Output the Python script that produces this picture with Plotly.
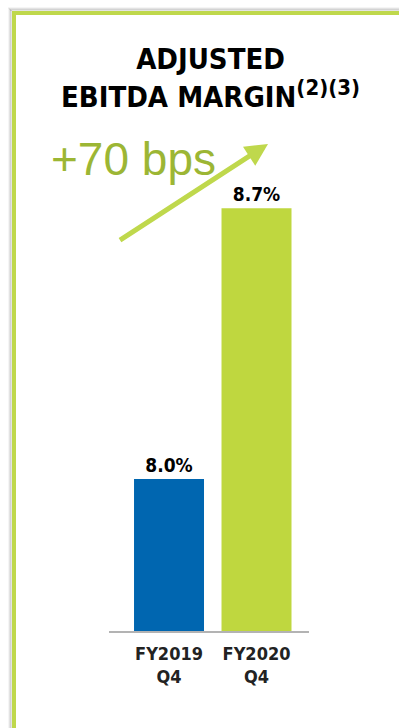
import plotly.graph_objects as go

categories = ["FY2019<br>Q4", "FY2020<br>Q4"]
values = [8.0, 8.7]
value_labels = ["8.0%", "8.7%"]
bar_colors = ["#0066b0", "#bfd73f"]

W, H = 399, 728
L, R, T, B = 109, 90, 140, 97
PW, PH = W - L - R, H - T - B

def px2x(px):
    return (px - L) / PW

def py2y(py):
    return (H - B - py) / PH

CONDENSED = "Liberation Sans Narrow, DejaVu Sans Condensed, Roboto Condensed, Arial Narrow, sans-serif"

fig = go.Figure(
    go.Bar(
        x=categories,
        y=values,
        marker=dict(color=bar_colors, line=dict(width=0)),
        text=value_labels,
        textposition="outside",
        textfont=dict(family=CONDENSED, size=19, color="#000000"),
        texttemplate="<b>%{text}</b>",
        cliponaxis=False,
        width=0.8,
    )
)

base = 7.607
fig.update_layout(
    width=W,
    height=H,
    margin=dict(l=L, r=R, t=T, b=B),
    paper_bgcolor="white",
    plot_bgcolor="white",
    showlegend=False,
    xaxis=dict(
        type="category",
        range=[-0.686, 1.6],
        showline=True,
        linecolor="#b3b3b3",
        linewidth=2,
        showgrid=False,
        zeroline=False,
        ticks="",
        ticklabelstandoff=5,
        tickfont=dict(family=CONDENSED, size=18, color="#222222", weight="bold"),
    ),
    yaxis=dict(
        range=[base, base + PH / 386.7],
        visible=False,
        showgrid=False,
        zeroline=False,
    ),
)

# title
fig.add_annotation(
    text="<b>ADJUSTED<br>EBITDA MARGIN<sup><span style='font-size:22px'>(2)(3)</span></sup></b>",
    xref="paper", yref="paper",
    x=px2x(210), y=py2y(78),
    xanchor="center", yanchor="middle",
    showarrow=False,
    font=dict(family=CONDENSED, size=29, color="#000000"),
    align="center",
)

# +70 bps
fig.add_annotation(
    text="+70 bps",
    xref="paper", yref="paper",
    x=px2x(49), y=py2y(159),
    xanchor="left", yanchor="middle",
    showarrow=False,
    font=dict(family="Liberation Sans, Arial, sans-serif", size=46, color="#9cb634"),
)

# arrow
fig.add_annotation(
    text=" ",
    xref="paper", yref="paper",
    x=px2x(268), y=py2y(144),
    ax=117 - 268, ay=242 - 144,
    showarrow=True,
    arrowhead=2,
    arrowsize=0.9,
    arrowwidth=5,
    arrowcolor="#bfd84c",
)

# border (green frame) with soft shadow
for i, a in enumerate([0.04, 0.07, 0.11]):
    off = 3 - i
    fig.add_shape(type="line", xref="paper", yref="paper",
                  x0=px2x(14 - 2 - off), x1=px2x(14 - 2 - off),
                  y0=py2y(11 - off), y1=py2y(H + 5),
                  line=dict(color=f"rgba(0,0,0,{a})", width=2), layer="below")
    fig.add_shape(type="line", xref="paper", yref="paper",
                  x0=px2x(11 - off), x1=px2x(W + 5),
                  y0=py2y(13 - 2 - off), y1=py2y(13 - 2 - off),
                  line=dict(color=f"rgba(0,0,0,{a})", width=2), layer="below")

fig.add_shape(type="line", xref="paper", yref="paper",
              x0=px2x(14), x1=px2x(14), y0=py2y(11), y1=py2y(H + 5),
              line=dict(color="#bfd84c", width=4))
fig.add_shape(type="line", xref="paper", yref="paper",
              x0=px2x(12), x1=px2x(W + 5), y0=py2y(13), y1=py2y(13),
              line=dict(color="#bfd84c", width=4))

fig.write_html("out.html")
